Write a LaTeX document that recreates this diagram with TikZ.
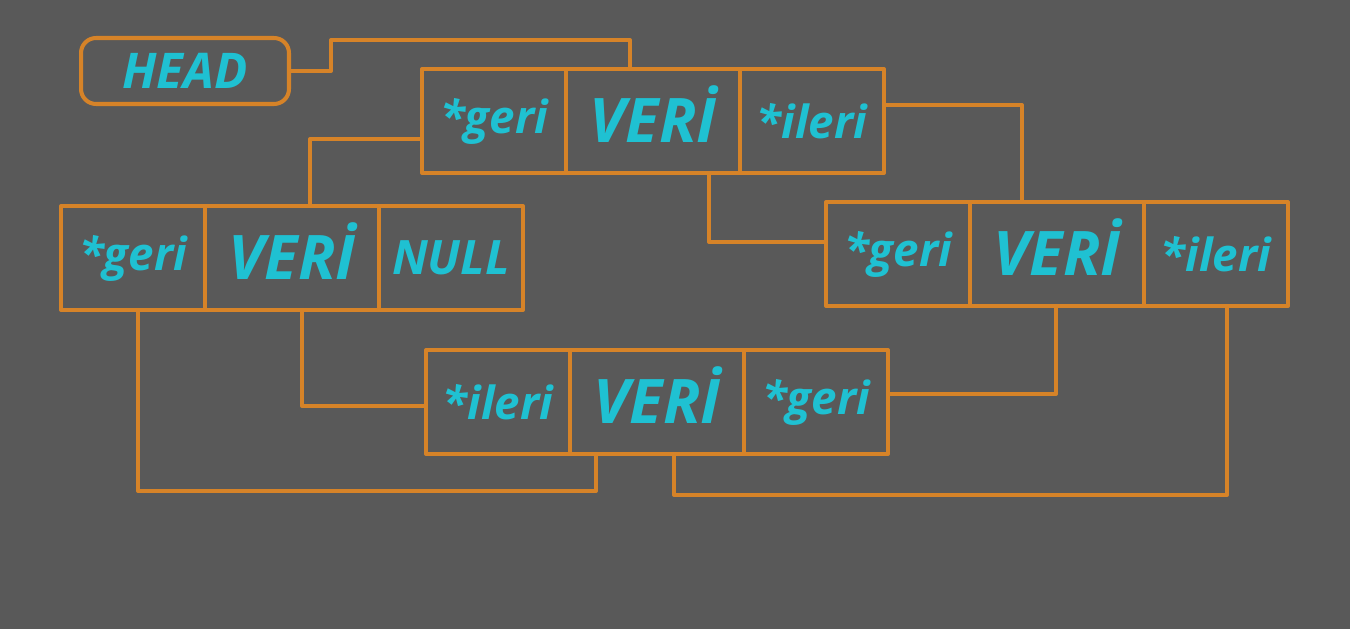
\documentclass[tikz,border=0pt]{standalone}
\usepackage{fontspec}
\setmainfont{Open Sans}
\usepackage{tikz}
\usetikzlibrary{calc, positioning}
\definecolor{darkgraybg}{RGB}{89, 89, 89}
\definecolor{lineorange}{RGB}{214, 131, 40}
\definecolor{textcyan}{RGB}{31, 193, 210}

\begin{document}
\begin{tikzpicture}[x=0.02cm, y=-0.02cm, line cap=round, line join=round,
		link/.style={lineorange, line width=2.3pt},
		cell/.style={draw=lineorange, line width=2.3pt, outer sep=0pt, minimum height=2.08cm, inner sep=0pt, text=textcyan, font=\bfseries\itshape\fontsize{26}{30}\selectfont},
		side/.style={cell, minimum width=2.88cm},
		data/.style={cell, minimum width=3.48cm, text height=25pt, text depth=0pt, font=\bfseries\itshape\fontsize{35}{42}\selectfont}]
		% background
		\fill[darkgraybg] (0,0) rectangle (1350,629);
		
		\node[draw=lineorange, line width=2.3pt, outer sep=0pt, rounded corners=0.3cm, minimum width=4.16cm, minimum height=1.32cm, text=textcyan, font=\bfseries\itshape\fontsize{28}{32}\selectfont] (head) at (185,71) {HEAD};
		
		% top node
		\node[side] (Ageri) at (494,121) {*geri};
		\node[data, right=0pt of Ageri] (Averi) {VERİ};
		\node[side, right=0pt of Averi] (Aileri) {*ileri};
		% left node
		\node[side] (Bgeri) at (133,258) {*geri};
		\node[data, right=0pt of Bgeri] (Bveri) {VERİ};
		\node[side, right=0pt of Bveri, font=\bfseries\itshape\fontsize{27}{32}\selectfont] (Bnull) {NULL};
		% right node
		\node[side] (Cgeri) at (898,254) {*geri};
		\node[data, right=0pt of Cgeri] (Cveri) {VERİ};
		\node[side, right=0pt of Cveri] (Cileri) {*ileri};
		% bottom node
		\node[side] (Dileri) at (498,402) {*ileri};
		\node[data, right=0pt of Dileri] (Dveri) {VERİ};
		\node[side, right=0pt of Dveri] (Dgeri) {*geri};
		
		% links
		\draw[link] (head.east) -| ++(42,-31) -| ($(Averi.north west)+(64,0)$);
		\draw[link] ($(Ageri.west)+(0,18)$) -| ($(Bveri.north west)+(105,0)$);
		\draw[link] ($(Aileri.east)+(0,-16)$) -| ($(Cveri.north west)+(52,0)$);
		\draw[link] ($(Averi.south west)+(143,0)$) |- ($(Cgeri.west)+(0,-12)$);
		\draw[link] ($(Bgeri.south west)+(77,0)$) -- ++(0,181) -| ($(Dveri.south west)+(26,0)$);
		\draw[link] ($(Bveri.south west)+(97,0)$) |- ($(Dileri.west)+(0,4)$);
		\draw[link] ($(Dgeri.east)+(0,-8)$) -| ($(Cveri.south west)+(86,0)$);
		\draw[link] ($(Dveri.south west)+(104,0)$) -- ++(0,41) -| ($(Cileri.south west)+(83,0)$);
\end{tikzpicture}
\end{document}
